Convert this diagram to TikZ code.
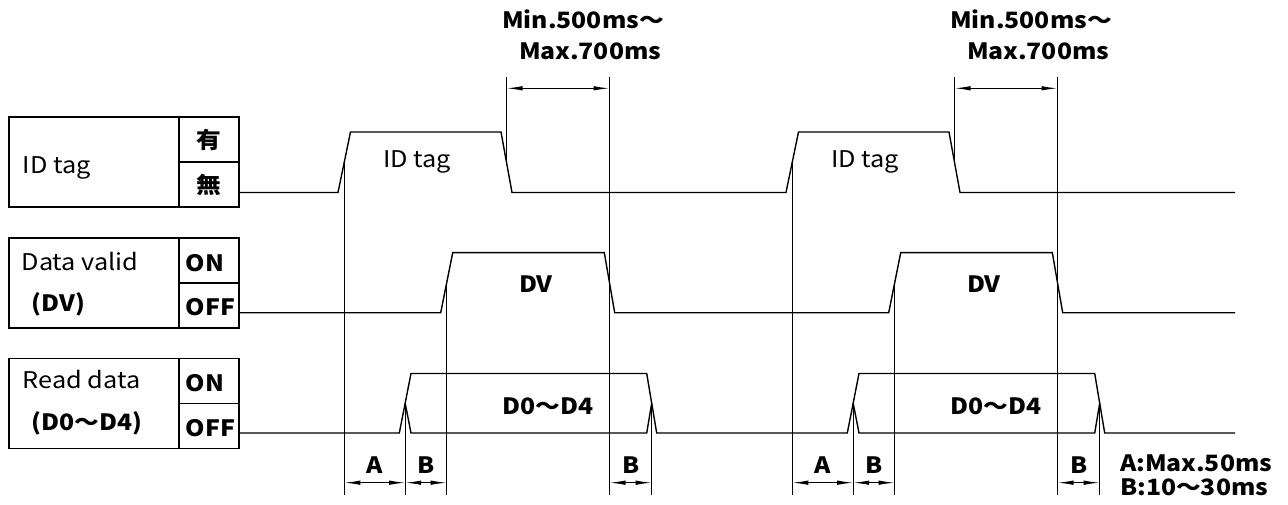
\documentclass[tikz,border=0pt]{standalone}
\usepackage{fontspec}
\setmainfont{Noto Sans CJK JP}[FakeStretch=1.1]
\usetikzlibrary{arrows.meta}
\usetikzlibrary{positioning}
\tikzstyle{every cell} = [rectangle, draw, line width=1.5pt, inner sep=0pt, outer sep=0pt]
\tikzstyle{namecell} = [every cell, minimum width=170pt, minimum height=90pt]
\tikzstyle{statecell} = [every cell, minimum width=60pt, minimum height=45pt]
\tikzstyle{thin text} = [font=\fontsize{23}{27}\selectfont, inner sep=0pt, anchor=base west]
\tikzstyle{bold text} = [font=\fontsize{22.5}{27}\selectfont\bfseries, inner sep=0pt, anchor=base west]
\tikzstyle{signal} = [draw, line width=1.4pt, line join=miter]
\tikzstyle{guide} = [draw, line width=1.1pt]
\tikzstyle{dimline} = [guide, {Latex[length=16pt,width=4.5pt]}-{Latex[length=16pt,width=4.5pt]}]

\begin{document}
\begin{tikzpicture}[x=1pt, y=-1pt]
  \useasboundingbox (0,0) rectangle (1288,505);
  % label boxes
  \node[namecell] (idcell) at (94,162) {};
  \node[statecell] (idyes) [above right=0pt of idcell.east] {};
  \node[statecell] (idno) [below right=0pt of idcell.east] {};
  \node[namecell] (dvcell) at (94,283) {};
  \node[statecell] (dvon) [above right=0pt of dvcell.east] {};
  \node[statecell] (dvoff) [below right=0pt of dvcell.east] {};
  \node[namecell] (rdcell) at (94,403.5) {};
  \node[statecell] (rdon) [above right=0pt of rdcell.east] {};
  \node[statecell] (rdoff) [below right=0pt of rdcell.east] {};
  \node[thin text] (idname) at (22.5,173.3) {ID tag};
  \node[thin text] (dvname) at (21.5,270.7) {Data valid};
  \node[bold text] (dvshort) at (31.5,311.7) {(DV)};
  \node[thin text] (rdname) at (22.5,388.3) {Read data};
  \node[bold text] (rdshort) at (31.5,430) {(D0〜D4)};
  \node[bold text, anchor=center] (yes) at (idyes) {有};
  \node[bold text, anchor=center] (no) at (idno) {無};
  \node[bold text] (dvonlbl) at (185.5,271.7) {ON};
  \node[bold text] (dvofflbl) at (185.5,315) {OFF};
  \node[bold text] (rdonlbl) at (185.5,391.7) {ON};
  \node[bold text] (rdofflbl) at (185.5,436.7) {OFF};

  % waveforms
  \draw[signal] (idno.east |- 0,192.5) -- (338,192.5) -- (350.5,132) -- (501,132) -- (512,192.5)
    -- (786,192.5) -- (798.5,132) -- (949,132) -- (960,192.5) -- (1235,192.5);
  \draw[signal] (dvoff.east |- 0,312.7) -- (440.7,312.7) -- (452.7,252.7) -- (604.3,252.7) -- (614.7,312.7)
    -- (888.7,312.7) -- (900.7,252.7) -- (1052.3,252.7) -- (1062.7,312.7) -- (1235,312.7);
  \draw[signal] (rdoff.east |- 0,433) -- (399.3,433) -- (411,373.5) -- (646.7,373.5) -- (656.7,433)
    -- (847.3,433) -- (859,373.5) -- (1094.7,373.5) -- (1104.7,433) -- (1235,433);
  \draw[signal] (405.2,403.3) -- (411,433) -- (646.7,433) -- (651.7,403.3);
  \draw[signal] (853.2,403.3) -- (859,433) -- (1094.7,433) -- (1099.7,403.3);
  \node[thin text] (idtag1) at (383,168) {ID tag};
  \node[thin text] (idtag2) at (831,168) {ID tag};
  \node[bold text] (dv1) at (519,292.7) {DV};
  \node[bold text] (dv2) at (967,292.7) {DV};
  \node[bold text] (data1) at (502,414.3) {D0〜D4};
  \node[bold text] (data2) at (950,414.3) {D0〜D4};

  % edge midpoints
  \coordinate (idup1) at (344.3,162.3);
  \coordinate (iddown1) at (506.5,162.3);
  \coordinate (dvup1) at (446.7,282.7);
  \coordinate (dvdown1) at (609.5,282.7);
  \coordinate (rdup1) at (405.2,403.3);
  \coordinate (rddown1) at (651.7,403.3);
  \coordinate (idup2) at (792.3,162.3);
  \coordinate (iddown2) at (954.5,162.3);
  \coordinate (dvup2) at (894.7,282.7);
  \coordinate (dvdown2) at (1057.5,282.7);
  \coordinate (rdup2) at (853.2,403.3);
  \coordinate (rddown2) at (1099.7,403.3);
  \coordinate (toprow) at (0,77);
  \coordinate (toparrow) at (0,88.3);
  \coordinate (botrow) at (0,495);
  \coordinate (botarrow) at (0,482.7);

  % extension lines
  \draw[guide] (idup1) -- (idup1 |- botrow) (rdup1) -- (rdup1 |- botrow) (dvup1) -- (dvup1 |- botrow)
    (iddown1) -- (iddown1 |- toprow) (dvdown1 |- toprow) -- (dvdown1 |- botrow) (rddown1) -- (rddown1 |- botrow);
  \draw[guide] (idup2) -- (idup2 |- botrow) (rdup2) -- (rdup2 |- botrow) (dvup2) -- (dvup2 |- botrow)
    (iddown2) -- (iddown2 |- toprow) (dvdown2 |- toprow) -- (dvdown2 |- botrow) (rddown2) -- (rddown2 |- botrow);

  % dimensions
  \draw[dimline] (iddown1 |- toparrow) -- (dvdown1 |- toparrow);
  \draw[dimline] (idup1 |- botarrow) -- (rdup1 |- botarrow);
  \draw[dimline] (rdup1 |- botarrow) -- (dvup1 |- botarrow);
  \draw[dimline] (dvdown1 |- botarrow) -- (rddown1 |- botarrow);
  \draw[dimline] (iddown2 |- toparrow) -- (dvdown2 |- toparrow);
  \draw[dimline] (idup2 |- botarrow) -- (rdup2 |- botarrow);
  \draw[dimline] (rdup2 |- botarrow) -- (dvup2 |- botarrow);
  \draw[dimline] (dvdown2 |- botarrow) -- (rddown2 |- botarrow);
  \node[bold text] (min1) at (502,29) {Min.500ms〜};
  \node[bold text] (max1) at (519,60) {Max.700ms};
  \node[bold text] (min2) at (950,29) {Min.500ms〜};
  \node[bold text] (max2) at (967,60) {Max.700ms};
  \node[bold text, anchor=base] (a1) at (375,473.3) {A};
  \node[bold text, anchor=base] (b1) at (426.5,473.3) {B};
  \node[bold text, anchor=base] (b2) at (630.6,473.3) {B};
  \node[bold text, anchor=base] (a2) at (823,473.3) {A};
  \node[bold text, anchor=base] (b3) at (874.5,473.3) {B};
  \node[bold text, anchor=base] (b4) at (1078.6,473.3) {B};
  \node[bold text] (notea) at (1120,471.7) {A:Max.50ms};
  \node[bold text] (noteb) at (1120,495) {B:10〜30ms};
\end{tikzpicture}
\end{document}
